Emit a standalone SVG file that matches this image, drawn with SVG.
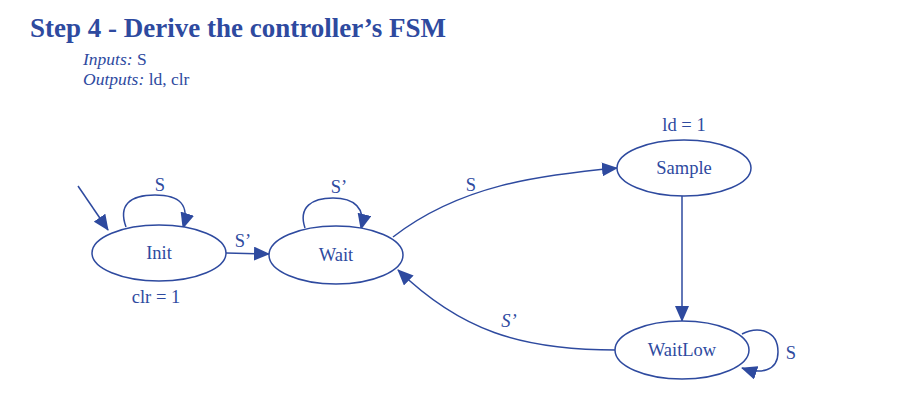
<svg xmlns="http://www.w3.org/2000/svg" width="900" height="413" viewBox="0 0 900 413">
<defs>
<style>
.t{font-family:"Liberation Serif","Times New Roman",serif;fill:#2E4A9F}
.n{fill:#fff;stroke:#2E4A9F;stroke-width:1.5}
.e{fill:none;stroke:#2E4A9F;stroke-width:1.5}
.lbl{font-size:18.5px;text-anchor:middle}
</style>
<marker id="ah" markerUnits="userSpaceOnUse" markerWidth="16" markerHeight="14" refX="15" refY="7" orient="auto">
<path d="M0,0 L16,7 L0,14 Z" fill="#2E4A9F"/>
</marker>
</defs>
<rect width="900" height="413" fill="#fff"/>
<text class="t" x="30" y="37" font-size="27" font-weight="bold">Step 4 - Derive the controller’s FSM</text>
<text class="t" x="83" y="65" font-size="17.5"><tspan font-style="italic">Inputs:</tspan> S</text>
<text class="t" x="83" y="85" font-size="17.5"><tspan font-style="italic">Outputs:</tspan> ld, clr</text>
<g id="connectors">
<path class="e" d="M78,186 L108,230" marker-end="url(#ah)"/>
<path class="e" d="M126,227 C118,205 130,195 155,195 C180,195 190,205 183,228" marker-end="url(#ah)"/>
<path class="e" d="M226,253 L269,254" marker-end="url(#ah)"/>
<path class="e" d="M305,228 C298,207 312,198 333,198 C354,198 366,208 361,229" marker-end="url(#ah)"/>
<path class="e" d="M393,237 C460,185 540,175 617,168" marker-end="url(#ah)"/>
<path class="e" d="M682,196 L682,321" marker-end="url(#ah)"/>
<path class="e" d="M616,350 C520,350 460,330 398,270" marker-end="url(#ah)"/>
<path class="e" d="M742,334 C758,326 778,330 778,352 C778,372 760,374 742,368" marker-end="url(#ah)"/>
<text class="t lbl" x="160" y="191">S</text>
<text class="t lbl" x="339" y="193">S’</text>
<text class="t lbl" x="243" y="247">S’</text>
<text class="t lbl" x="471" y="191">S</text>
<text class="t lbl" x="509" y="327" font-style="italic">S’</text>
<text class="t lbl" x="791" y="359">S</text>
</g>
<g id="Init">
<ellipse class="n" cx="159" cy="253" rx="67" ry="28"/>
<text class="t lbl" x="159" y="259">Init</text>
<text class="t lbl" x="156" y="303">clr = 1</text>
</g>
<g id="Wait">
<ellipse class="n" cx="336" cy="255" rx="67" ry="29"/>
<text class="t lbl" x="336" y="261">Wait</text>
</g>
<g id="Sample">
<ellipse class="n" cx="684" cy="168" rx="67" ry="28"/>
<text class="t lbl" x="684" y="174">Sample</text>
<text class="t lbl" x="684" y="131">ld = 1</text>
</g>
<g id="WaitLow">
<ellipse class="n" cx="682" cy="350" rx="67" ry="29"/>
<text class="t lbl" x="682" y="356">WaitLow</text>
</g>
</svg>
